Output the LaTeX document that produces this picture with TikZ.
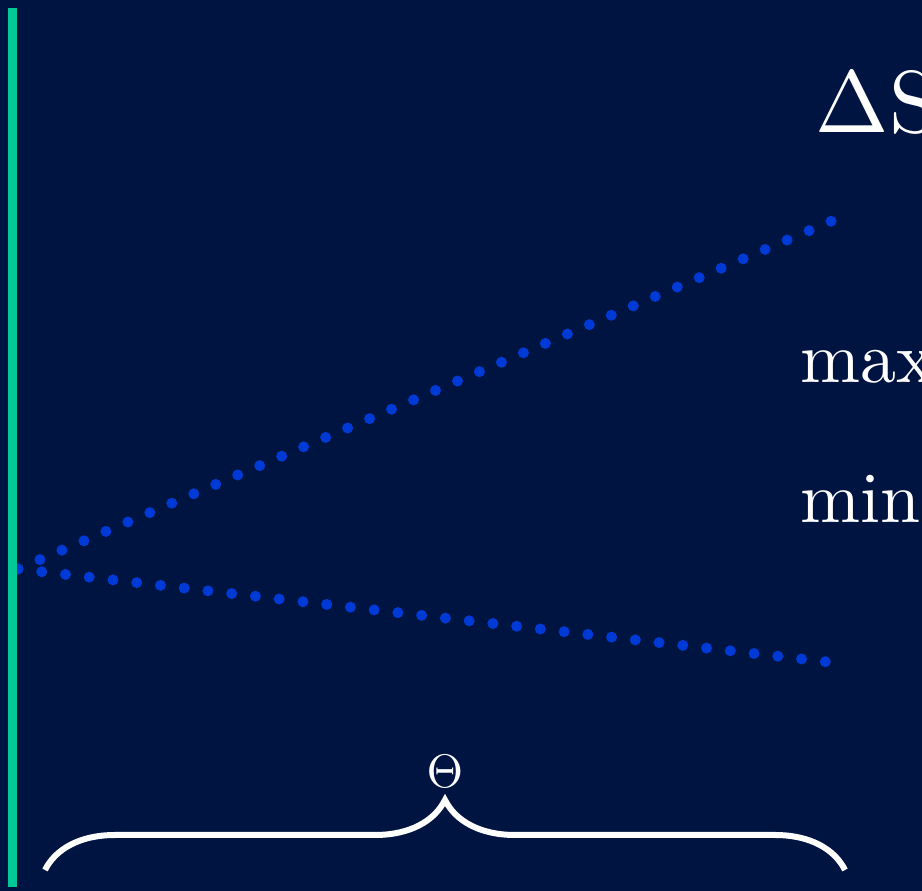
\documentclass[tikz,border=0pt]{standalone}
\usetikzlibrary{decorations.pathreplacing}
\definecolor{bgnavy}{RGB}{0,20,65}
\definecolor{accgreen}{RGB}{0,200,150}
\definecolor{dotblue}{RGB}{0,58,214}
\begin{document}
\begin{tikzpicture}[x=1pt,y=1pt,
  dotline/.style={dotblue,line width=11pt,line cap=round,dash pattern=on 0pt off 23.9pt},
  bigtext/.style={text=white,inner sep=0pt,anchor=base west,font=\fontsize{10}{12}\selectfont}]
  % Background and frame
  \fill[bgnavy] (0,0) rectangle (922,891);
  \useasboundingbox (0,0) rectangle (922,891);

  % Fan of dotted rays
  \coordinate (apex) at (18,322);
  \coordinate (uptip) at (834,671);
  \coordinate (lowtip) at (828,229);
  \draw[dotline] (apex) -- (uptip);
  \draw[dotline] (apex) -- (lowtip);

  % Green axis bar
  \fill[accgreen] (8,4) rectangle (17,883);

  % Labels on the right (cut by the frame)
  \node[bigtext,scale=8.8] (dS) at (814,758) {$\Delta$S};
  \node[bigtext,scale=7.2] (lmax) at (799,508) {max};
  \node[bigtext,scale=7.2] (lmin) at (799,368) {min};

  % Brace with parameter label
  \coordinate (bl) at (45,21);
  \coordinate (br) at (845,21);
  \draw[white,line width=6pt,decorate,decoration={brace,amplitude=70pt}] (bl) -- (br);
  \node[text=white,font=\fontsize{10}{12}\selectfont,scale=4.7] (theta) at (445,120) {$\Theta$};
\end{tikzpicture}
\end{document}
